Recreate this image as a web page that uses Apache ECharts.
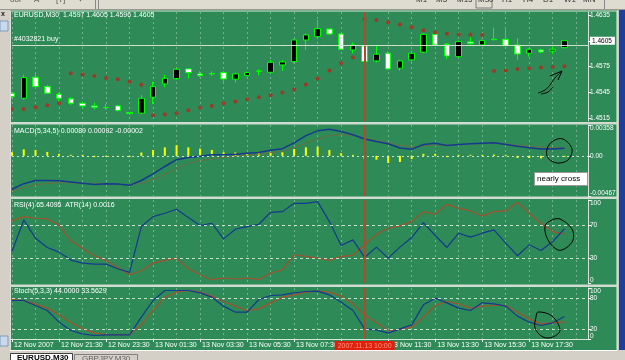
<!DOCTYPE html>
<html>
<head>
<meta charset="utf-8">
<script src="https://cdn.jsdelivr.net/npm/echarts@6/dist/echarts.min.js"></script>
<style>
html,body{margin:0;padding:0;background:#d4d0c8;overflow:hidden;}
#chart{width:625px;height:360px;}
</style>
</head>
<body>
<div id="chart"></div>
<script>
// ---------------- data ----------------
const times = ['12 Nov 19:30','12 Nov 20:00','12 Nov 20:30','12 Nov 21:00','12 Nov 21:30','12 Nov 22:00','12 Nov 22:30','12 Nov 23:00',
  '12 Nov 23:30','13 Nov 00:00','13 Nov 00:30','13 Nov 01:00','13 Nov 01:30','13 Nov 02:00','13 Nov 02:30','13 Nov 03:00',
  '13 Nov 03:30','13 Nov 04:00','13 Nov 04:30','13 Nov 05:00','13 Nov 05:30','13 Nov 06:00','13 Nov 06:30','13 Nov 07:00',
  '13 Nov 07:30','13 Nov 08:00','13 Nov 08:30','13 Nov 09:00','13 Nov 09:30','13 Nov 10:00','13 Nov 10:30','13 Nov 11:00',
  '13 Nov 11:30','13 Nov 12:00','13 Nov 12:30','13 Nov 13:00','13 Nov 13:30','13 Nov 14:00','13 Nov 14:30','13 Nov 15:00',
  '13 Nov 15:30','13 Nov 16:00','13 Nov 16:30','13 Nov 17:00','13 Nov 17:30','13 Nov 18:00','13 Nov 18:30','13 Nov 19:00'];
const padTimes = ['13 Nov 19:30','13 Nov 20:00'];
const firstLabel = '12 Nov 2007';

const open  = [1.45439,1.45380,1.45625,1.45516,1.45427,1.45373,1.45322,1.45291,1.45272,1.45291,1.45214,1.45206,1.45392,1.45547,1.45609,1.45722,
  1.45664,1.45668,1.45679,1.45602,1.45644,1.45691,1.45683,1.45768,1.45807,1.46059,1.46098,1.46187,1.46129,1.45943,1.45990,1.45815,
  1.45904,1.45730,1.45827,1.45916,1.46125,1.46009,1.45865,1.46036,1.46001,1.46067,1.46067,1.46001,1.45904,1.45943,1.45931,1.4597];
const high  = [1.45454,1.45656,1.45679,1.45536,1.45446,1.45392,1.45342,1.45330,1.45314,1.45303,1.45221,1.45419,1.45574,1.45652,1.45730,1.45730,
  1.45695,1.45695,1.45695,1.45679,1.45691,1.45718,1.45827,1.45827,1.46067,1.46137,1.46292,1.46195,1.46137,1.46028,1.46001,1.46001,
  1.45924,1.45827,1.45935,1.46137,1.46145,1.46021,1.46052,1.46090,1.46067,1.46203,1.46195,1.46079,1.45962,1.45955,1.45982,1.4605];
const low   = [1.45377,1.45361,1.45508,1.45431,1.45342,1.45303,1.45264,1.45252,1.45245,1.45225,1.45186,1.45198,1.45314,1.45508,1.45594,1.45613,
  1.45625,1.45640,1.45574,1.45563,1.45633,1.45648,1.45671,1.45699,1.45788,1.45943,1.46090,1.46118,1.45943,1.45904,1.45796,1.45796,
  1.45710,1.45699,1.45807,1.45904,1.45990,1.45834,1.45854,1.46001,1.45993,1.46052,1.45982,1.45827,1.45865,1.45904,1.45896,1.4596];
const close = [1.45400,1.45621,1.45516,1.45439,1.45380,1.45322,1.45291,1.45276,1.45272,1.45237,1.45202,1.45380,1.45516,1.45613,1.45718,1.45679,
  1.45644,1.45664,1.45605,1.45664,1.45679,1.45699,1.45799,1.45803,1.46059,1.46118,1.46191,1.46129,1.45951,1.46001,1.45807,1.45893,
  1.45722,1.45815,1.45904,1.46125,1.46001,1.45873,1.46040,1.46017,1.46052,1.46063,1.45993,1.45896,1.45951,1.45920,1.45951,1.4605];
const sar   = [1.45256,1.45256,1.45276,1.45299,1.45322,1.45671,1.45656,1.45640,1.45617,1.45602,1.45571,1.45536,1.45183,1.45190,1.45206,1.45241,
  1.45268,1.45291,1.45322,1.45342,1.45369,1.45392,1.45415,1.45446,1.45481,1.45540,1.45609,1.45702,1.45788,1.45854,1.46304,1.46292,
  1.46265,1.46238,1.46207,1.46172,1.46145,1.46133,1.46122,1.46122,1.46118,1.45699,1.45702,1.45722,1.45730,1.45737,1.45745,1.45753];

const macdMain   = [-0.00388,-0.00324,-0.00287,-0.00287,-0.00290,-0.00305,-0.00320,-0.00332,-0.00324,-0.00328,-0.00343,-0.00287,-0.00211,-0.00124,-0.00045,-0.00019,
  -0.00004,0.00011,0.00011,0.00019,0.00030,0.00038,0.00064,0.00083,0.00151,0.00234,0.00290,0.00309,0.00283,0.00245,0.00196,0.00166,
  0.00140,0.00090,0.00075,0.00132,0.00147,0.00121,0.00132,0.00140,0.00147,0.00151,0.00132,0.00110,0.00095,0.00078,0.00078,0.00089];
const macdSignal = [-0.00407,-0.00369,-0.00339,-0.00320,-0.00313,-0.00313,-0.00320,-0.00324,-0.00328,-0.00328,-0.00336,-0.00320,-0.00275,-0.00219,-0.00143,-0.00087,
  -0.00057,-0.00034,-0.00019,-0.00004,0.00008,0.00019,0.00038,0.00053,0.00094,0.00147,0.00196,0.00234,0.00245,0.00234,0.00207,0.00177,
  0.00151,0.00124,0.00102,0.00113,0.00124,0.00124,0.00128,0.00136,0.00143,0.00147,0.00140,0.00124,0.00112,0.00102,0.00096,0.00092];
const macdHist   = [0.00041,0.00075,0.00068,0.00045,0.00023,0.00008,0.00004,-0.00015,-0.00004,-0.00004,-0.00015,0.00038,0.00068,0.00098,0.00124,0.00098,
  0.00083,0.00068,0.00041,0.00038,0.00030,0.00030,0.00041,0.00041,0.00079,0.00098,0.00106,0.00068,0.00030,0.00008,-0.00038,-0.00045,
  -0.00083,-0.00072,-0.00038,0.00023,0.00023,-0.00015,0.00004,0.00004,0.00004,0.00015,0.00004,-0.00026,-0.00026,-0.00030,-0.00008,-0.00002];

const rsi     = [38,76,54,42.8,37.2,27.6,24,22.8,22.8,17.2,12.8,68,80,84,88.8,78.8,69.2,72,53.2,64.8,68,70.8,85.2,86,
  96,96,98,74,45.2,52,30.8,43.2,30,43.2,54.8,72.8,57.2,42.8,60,55.2,60,64,48,32.8,46,39.2,50,65.4095];
const atrLine = [74.8,80,78,77.2,70,50.8,42,32.8,27.2,18.8,10,14.8,24,27.2,30,17.2,10,4,6,4.8,6,4,12,16,
  34,32,30,27.2,32,33.2,46,58.8,66,68.8,74,86,82.8,94.8,90,86.8,80.8,86,86.8,97.2,84,72,62,58.8];
const atrValue = 0.0016;

const stochK = [75.5,75.5,65.7,55.9,33,16.7,10.1,6.9,8.2,8.2,8.2,42.8,75.5,95.1,95.1,95.1,90.5,82,64.4,52.6,52.6,77.4,85.3,86.6,
  90.5,93.1,93.8,86.6,72.2,55.9,19.9,18,11.4,19.9,27.8,67,80.1,70.9,60.5,55.9,70.9,69,64.4,44.8,33,26.5,31.7,44];
const stochD = [77.4,75.5,69,60.5,47.4,33,19.9,12.1,8.8,8.2,8.8,27.8,55.9,82,91.8,95.1,91.8,84,73.5,64.4,55.9,59.1,70.9,82,
  86.6,91.8,93.8,91.8,84,69,47.4,31.7,16.7,18.6,23.2,42.8,65.7,73.5,69,60.5,64.4,65.7,65.7,52.6,39.5,29.7,31.7,33.5629];

const priceTicks = [1.4515,1.4545,1.4575,1.4605,1.4635];
const macdTicks  = [-0.00467,0,0.00358];
const rsiTicks   = [0,30,70,100];
const rsiLevels  = [70,30];
const stochTicks = [0,20,80,100];
const stochLevels= [80,20];
const orderPrice = 1.4606, takeProfit = 1.4626, stopLoss = 1.4586, bidPrice = 1.4605;
const orderLabel = '#4032821 buy';
const vLineIndex = 30;
const vLineLabel = '2007.11.13 10:00';

// ---------------- build ----------------
const cats = times.concat(padTimes);
const N = times.length;
const last = N - 1;
const FONT = 'Liberation Sans, Arial, sans-serif';
const C = {
  bg:'#2e8b57', frame:'#d6e3d6', grid:'rgba(185,215,195,0.5)', level:'rgba(225,240,225,0.85)',
  text:'#ffffff', lime:'#00ff00', sar:'#b8261c', blue:'#15398e', brown:'#a5502c', vline:'#b04a2a'
};
const candles = open.map((o,i)=>[o, close[i], low[i], high[i]]);

const gridsPos = [
  {left:12, right:37, top:12,  height:109},
  {left:12, right:37, top:125, height:71},
  {left:12, right:37, top:200, height:83},
  {left:12, right:37, top:288, height:51}
];

const showTick = (idx)=> idx % 4 === 0 && idx < N;
const xAxes = gridsPos.map((g,i)=>({
  type:'category', gridIndex:i, data:cats, boundaryGap:false,
  axisLine:{show:false},
  axisTick:{show:i===3, interval:showTick, length:3, lineStyle:{color:'#ffffff'}},
  axisLabel:{show:i===3, interval:showTick, align:'left', margin:3, color:C.text, fontSize:7, fontFamily:FONT,
    padding:[0,0,0,2], formatter:(v,idx)=> idx===0 ? firstLabel : v},
  splitLine:{show:true, interval:(idx)=> idx % 2 === 0, lineStyle:{color:C.grid, type:[2,3], width:1}}
}));

const yBase = (i, min, max, ticks, fmt) => ({
  type:'value', gridIndex:i, position:'right', min:min, max:max, scale:true,
  axisLine:{show:true, lineStyle:{color:C.frame, width:1}},
  axisTick:{show:true, length:3, customValues:ticks, lineStyle:{color:'#ffffff'}},
  axisLabel:{customValues:ticks, color:C.text, fontSize:6.5, lineHeight:5.5, fontFamily:FONT, margin:2, formatter:fmt,
    showMinLabel:true, showMaxLabel:true, hideOverlap:false,
    verticalAlignMinLabel:'bottom', verticalAlignMaxLabel:'top'},
  splitLine:{show:false}
});

const yAxes = [
  yBase(0, 1.45115, 1.46385, priceTicks, (v)=> Math.abs(v-bidPrice)<1e-7 ? '{b|'+v.toFixed(4)+'}' : v.toFixed(4)),
  yBase(1, -0.00467, 0.00358, macdTicks, (v)=> Math.abs(v)<1e-9 ? '0.00' : v.toFixed(5)),
  yBase(2, 0, 100, rsiTicks, (v)=> String(v)),
  yBase(3, 0, 100, stochTicks, (v)=> String(v))
];
yAxes[0].axisLabel.verticalAlignMinLabel = 'middle';
yAxes[0].axisLabel.verticalAlignMaxLabel = 'middle';
yAxes[0].axisLabel.rich = {b:{backgroundColor:'#ffffff', color:'#000000', fontSize:6.5, lineHeight:8, fontFamily:FONT, padding:[1,3,0,2]}};

const vline = (withLabel)=>({
  xAxis: cats[vLineIndex],
  lineStyle:{color:C.vline, width:2, type:'solid'},
  label: withLabel ? {show:true, position:'start', formatter:vLineLabel, backgroundColor:'#e0200c', color:'#ff9a80',
    fontSize:7, fontFamily:FONT, padding:[2,3,1,3], distance:2} : {show:false}
});
const level = (v)=>({yAxis:v, lineStyle:{color:C.level, type:[3,3], width:1}, label:{show:false}});
const ml = (data)=>({symbol:['none','none'], silent:true, animation:false, data:data});

const series = [
  {type:'candlestick', xAxisIndex:0, yAxisIndex:0, data:candles, barWidth:6, clip:false,
   itemStyle:{color:'#000000', color0:'#ffffff', borderColor:C.lime, borderColor0:C.lime, borderColorDoji:C.lime, borderWidth:1},
   markLine: ml([
     vline(false),
     ...priceTicks.map(p=>({yAxis:p, lineStyle:{color:C.grid, type:[2,3], width:1}, label:{show:false}})),
     {yAxis:takeProfit, lineStyle:{color:'#c0402c', type:[6,4,2,4], width:1}, label:{show:false}},
     {yAxis:stopLoss, lineStyle:{color:'#c0402c', type:[6,4,2,4], width:1}, label:{show:false}},
     {yAxis:orderPrice, lineStyle:{color:'rgba(215,235,215,0.9)', type:'solid', width:1},
      label:{show:true, position:'insideStartTop', formatter:orderLabel, color:C.text, fontSize:7, fontFamily:FONT, distance:[2,2]}}
   ])},
  {type:'scatter', xAxisIndex:0, yAxisIndex:0, data:sar, symbolSize:4, itemStyle:{color:C.sar}, z:3},
  {type:'bar', xAxisIndex:1, yAxisIndex:1, data:macdHist, barWidth:2, barMinHeight:1, itemStyle:{color:'#ffff00'},
   markLine: ml([vline(false), {yAxis:0, lineStyle:{color:C.level, type:[2,3], width:1}, label:{show:false}}])},
  {type:'line', xAxisIndex:1, yAxisIndex:1, data:macdSignal, symbol:'none', lineStyle:{color:C.brown, width:1, type:[2,2]}},
  {type:'line', xAxisIndex:1, yAxisIndex:1, data:macdMain, symbol:'none', lineStyle:{color:C.blue, width:1.5}},
  {type:'line', xAxisIndex:2, yAxisIndex:2, data:atrLine, symbol:'none', lineStyle:{color:C.brown, width:1.2},
   markLine: ml([vline(false), ...rsiLevels.map(level)])},
  {type:'line', xAxisIndex:2, yAxisIndex:2, data:rsi, symbol:'none', lineStyle:{color:C.blue, width:1.2}},
  {type:'line', xAxisIndex:3, yAxisIndex:3, data:stochD, symbol:'none', lineStyle:{color:C.brown, width:1.2},
   markLine: ml([vline(true), ...stochLevels.map(level)])},
  {type:'line', xAxisIndex:3, yAxisIndex:3, data:stochK, symbol:'none', lineStyle:{color:C.blue, width:1.2}}
];

const tStyle = {color:C.text, fontSize:7, fontWeight:'normal', fontFamily:FONT};
const titles = [
  {text:'EURUSD,M30  '+open[last].toFixed(4)+' '+high[last].toFixed(4)+' '+low[last].toFixed(4)+' '+close[last].toFixed(4), top:12},
  {text:'MACD(5,34,5) '+macdMain[last].toFixed(5)+' '+macdSignal[last].toFixed(5)+' '+macdHist[last].toFixed(5), top:128},
  {text:'RSI(4) '+rsi[last].toFixed(4)+'  ATR(14) '+atrValue.toFixed(4), top:202},
  {text:'Stoch(5,3,3) '+stochK[last].toFixed(4)+' '+stochD[last].toFixed(4), top:288}
].map(t=>({text:t.text, left:14, top:t.top, padding:0, textStyle:tStyle}));

// ---------------- window chrome & hand drawn notes ----------------
const Z = 100;
const hl = (y,x1,x2,color,w)=>({type:'line', z:Z, shape:{x1:x1,y1:y,x2:x2,y2:y}, style:{stroke:color, lineWidth:w||1}});
const vl = (x,y1,y2,color,w)=>({type:'line', z:Z, shape:{x1:x,y1:y1,x2:x,y2:y2}, style:{stroke:color, lineWidth:w||1}});
const rect = (x,y,w,h,fill,stroke)=>({type:'rect', z:Z, shape:{x:x,y:y,width:w,height:h}, style:{fill:fill, stroke:stroke||null, lineWidth:1}});
const txt = (x,y,s,fill,font)=>({type:'text', z:Z+1, style:{x:x,y:y,text:s,fill:fill,font:font}});
const blob = (pts)=>({type:'polygon', z:Z, shape:{points:pts, smooth:0.35}, style:{stroke:'#000000', fill:null, lineWidth:1}});

const graphics = [
  // toolbar
  rect(0,0,625,10,'#dedbd0'), hl(9.5,0,625,'#9a978e'),
  txt(10,-4,'ᴗᴗᴦ','#555','8px '+FONT), txt(34,-4,'A','#555','8px '+FONT), txt(56,-4,'[T]','#555','8px '+FONT),
  txt(77,-4,'✦','#555','8px '+FONT), vl(95.5,0,9,'#888'), vl(98.5,0,9,'#888'),
  txt(416,-4,'M1','#333','8px '+FONT), txt(436,-4,'M5','#333','8px '+FONT), txt(457,-4,'M15','#333','8px '+FONT),
  rect(476,-2,16,10,null,'#7a7a7a'), txt(478,-4,'M30','#333','8px '+FONT), txt(502,-4,'H1','#333','8px '+FONT),
  txt(523,-4,'H4','#333','8px '+FONT), txt(543,-4,'D1','#333','8px '+FONT), txt(564,-4,'W1','#333','8px '+FONT),
  txt(583,-4,'MN','#333','8px '+FONT), vl(604.5,0,9,'#888'),
  // left strip
  rect(0,10,10,350,'#d4d0c8'), txt(1,11,'x','#222','bold 7px '+FONT), rect(0,21,8,10,'#cbd8ee','#7f9db9'),
  rect(0,336,8,10,'#cbd8ee','#7f9db9'),
  // right strip
  rect(617,10,2,350,'#c8c8c8'), rect(619,10,6,350,'#1e3f9e'),
  // bottom tabs
  rect(0,350,625,10,'#d4d0c8'), hl(350.5,10,617,'#ffffff'),
  rect(10.5,353.5,62,8,'#ffffff','#404040'), txt(17,354,'EURUSD,M30','#000','bold 8px '+FONT),
  rect(74.5,354.5,63,8,'#d4d0c8','#808080'), txt(82,355,'GBPJPY,M30','#606060','8px '+FONT),
  // panel frames and separators
  hl(11,10,617,C.frame), vl(10.5,11,350,C.frame), vl(617,11,350,'#e6eee6'),
  rect(10,122,607,2.5,'#cfdccf'), rect(10,196.5,607,2.5,'#cfdccf'), rect(10,284.5,607,2.5,'#cfdccf'),
  hl(339.5,10,588.5,C.frame),
  // annotations
  rect(534.5,172.5,53,13,'#ffffff','#9a9a9a'), txt(537,175,'nearly cross','#000','8px '+FONT),
  {type:'polyline', z:Z, shape:{points:[[538,93],[545,90],[550,85],[555,78],[562,71]], smooth:0.4}, style:{stroke:'#000', lineWidth:1, fill:null}},
  {type:'polyline', z:Z, shape:{points:[[550,76],[562,71],[558,80]]}, style:{stroke:'#000', lineWidth:1, fill:null}},
  {type:'polyline', z:Z, shape:{points:[[541,94],[548,92],[553,87]], smooth:0.4}, style:{stroke:'#000', lineWidth:1, fill:null}},
  blob([[563,139],[572,149],[568,160],[557,163],[548,158],[547,149],[553,141]]),
  blob([[560,219],[572,229],[573,240],[566,248],[558,250],[548,240],[545,226],[552,220]]),
  blob([[538,312],[552,316],[560,330],[553,337],[543,337],[535,328],[536,317]])
];

const chart = echarts.init(document.getElementById('chart'), null, {renderer:'canvas'});
chart.setOption({
  animation:false,
  backgroundColor:C.bg,
  title:titles,
  grid:gridsPos,
  xAxis:xAxes,
  yAxis:yAxes,
  series:series,
  graphic:{elements:graphics}
});
</script>
</body>
</html>
